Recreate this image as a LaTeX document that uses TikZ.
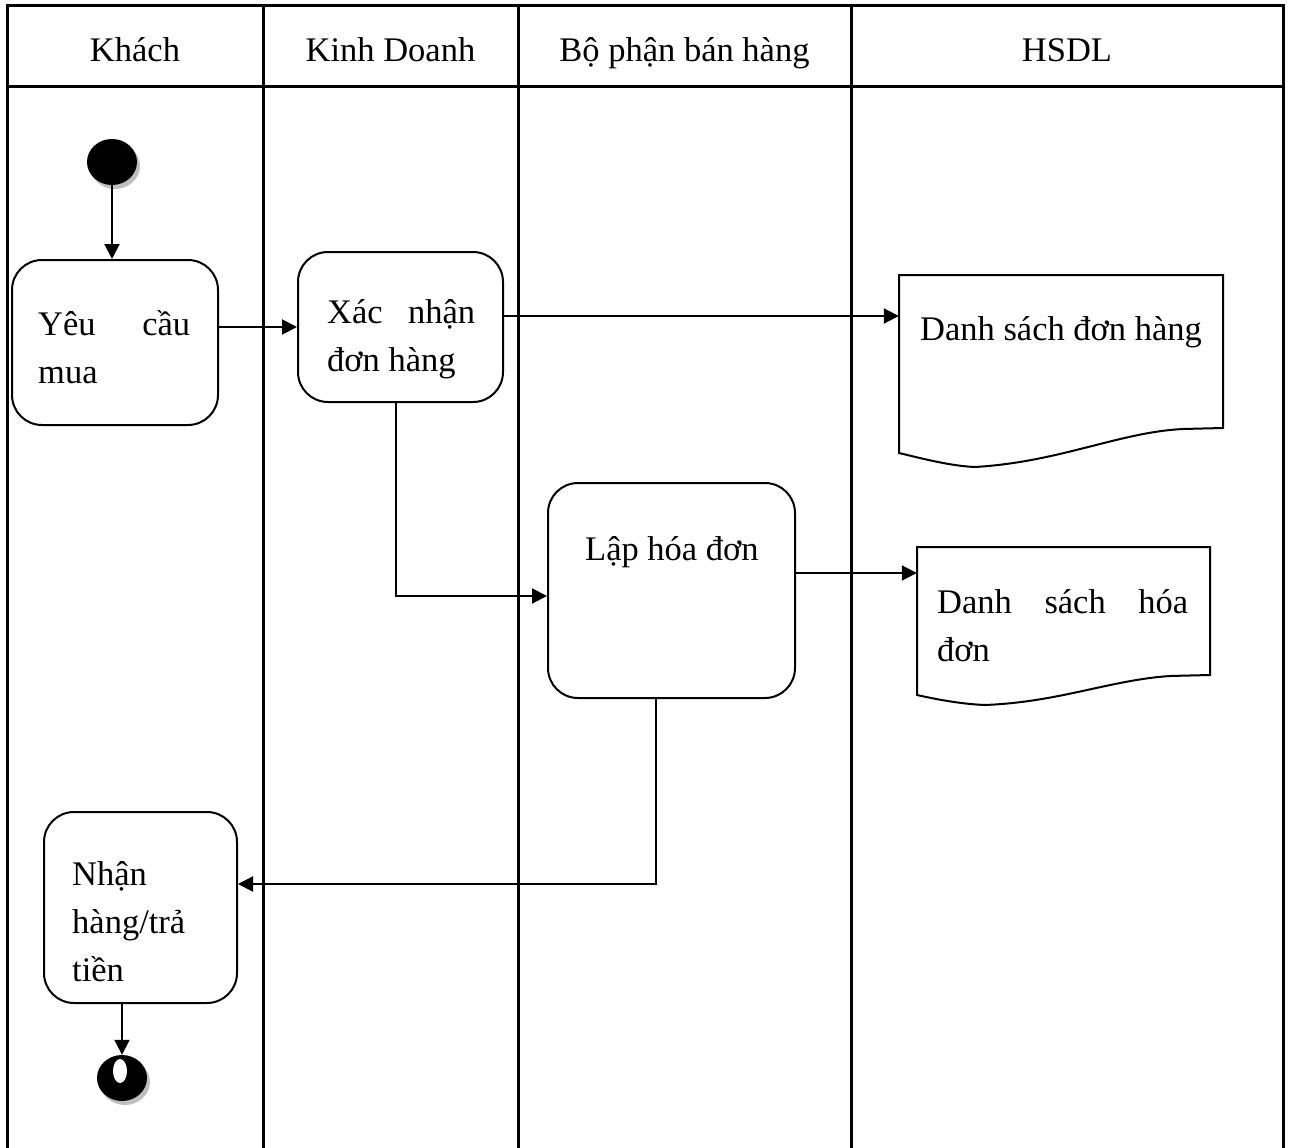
\documentclass[tikz,border=0pt]{standalone}
\usepackage{fontspec}
\setmainfont{Liberation Serif}
\usetikzlibrary{arrows.meta,shapes.geometric,shadows}
\begin{document}
\begin{tikzpicture}[x=1pt,y=-1pt,
  every node/.style={font=\fontsize{34.5}{48}\selectfont, inner sep=0pt},
  lane/.style={line width=3pt},
  actbox/.style={draw, line width=2pt, rounded corners=30pt},
  flow/.style={line width=2pt, -{Triangle[length=15pt,width=15pt]}},
  docline/.style={draw, line width=2pt},
  spot/.style={ellipse, fill=black,
    drop shadow={shadow xshift=3pt, shadow yshift=-4pt, fill=black!25, opacity=1}}
]
\useasboundingbox (0,0) rectangle (1291,1148);

% swimlane grid
\draw[lane] (7,1148) -- (7,6) -- (1283,6) -- (1283,1148);
\draw[lane] (7,87) -- (1283,87);
\foreach \x in {263,518,851} \draw[lane] (\x,6) -- (\x,1148);

% lane headers
\node[anchor=base] (hk) at (135,62) {Khách};
\node[anchor=base] (hkd) at (390.5,62) {Kinh Doanh};
\node[anchor=base] (hbp) at (684.5,62) {Bộ phận bán hàng};
\node[anchor=base] (hhs) at (1067,62) {HSDL};

% start and end states
\node[spot, minimum width=50pt, minimum height=46pt] (start) at (112,162) {};
\node[spot, minimum width=50pt, minimum height=46pt] (end) at (122,1078) {};
\node[ellipse, fill=white, minimum width=14pt, minimum height=24pt] (endhole) at (120,1071) {};

% activities
\node[actbox, minimum width=206pt, minimum height=165pt] (yeu) at (115,342.5) {};
\node[actbox, minimum width=205pt, minimum height=150pt] (xac) at (400.5,327) {};
\node[actbox, minimum width=247pt, minimum height=215pt] (lap) at (671.5,590.5) {};
\node[actbox, minimum width=193pt, minimum height=191pt] (nhan) at (140.5,907.5) {};

% document stores
\node[minimum width=324pt, minimum height=178pt] (d1) at (1061,364) {};
\draw[docline] (1223,428) -- (1223,275) -- (899,275) -- (899,453)
  .. controls (920,458) and (950,466) .. (975,467)
  .. controls (1060,462) and (1120,432) .. (1183,429) -- cycle;
\node[minimum width=293pt, minimum height=148pt] (d2) at (1063.5,621) {};
\draw[docline] (1210,675) -- (1210,547) -- (917,547) -- (917,695)
  .. controls (935,699) and (960,704) .. (985,705)
  .. controls (1060,702) and (1110,680) .. (1170,676) -- cycle;

% texts
\node[anchor=base west] (tyeu) at (38,335) {\vtop{\hbox to 152pt{Yêu\hfill cầu}\hbox{mua}}};
\node[anchor=base west] (txac) at (327,323) {\vtop{\hbox to 148pt{Xác\hfill nhận}\hbox{đơn hàng}}};
\node[anchor=base west] (tlap) at (585,560) {Lập hóa đơn};
\node[anchor=base west] (tnhan) at (72,885) {\vtop{\hbox{Nhận}\hbox{hàng/trả}\hbox{tiền}}};
\node[anchor=base west] (td1) at (920,340) {Danh sách đơn hàng};
\node[anchor=base west] (td2) at (937,613) {\vtop{\hbox to 251pt{Danh\hfill sách\hfill hóa}\hbox{đơn}}};

% control flow
\draw[flow] (start.south) -- (start.south |- yeu.north);
\draw[flow] (yeu.east |- xac.west) -- (xac.west);
\draw[flow] ([yshift=11pt]xac.east) -- ([yshift=11pt]xac.east -| d1.west);
\draw[flow] ([xshift=-4.5pt]xac.south) |- ([yshift=-5.5pt]lap.west);
\draw[flow] ([yshift=17.5pt]lap.east) -- ([yshift=17.5pt]lap.east -| d2.west);
\draw[flow] ([xshift=-15.5pt]lap.south) |- ([yshift=23.5pt]nhan.east);
\draw[flow] (end.north |- nhan.south) -- (end.north);
\end{tikzpicture}
\end{document}
